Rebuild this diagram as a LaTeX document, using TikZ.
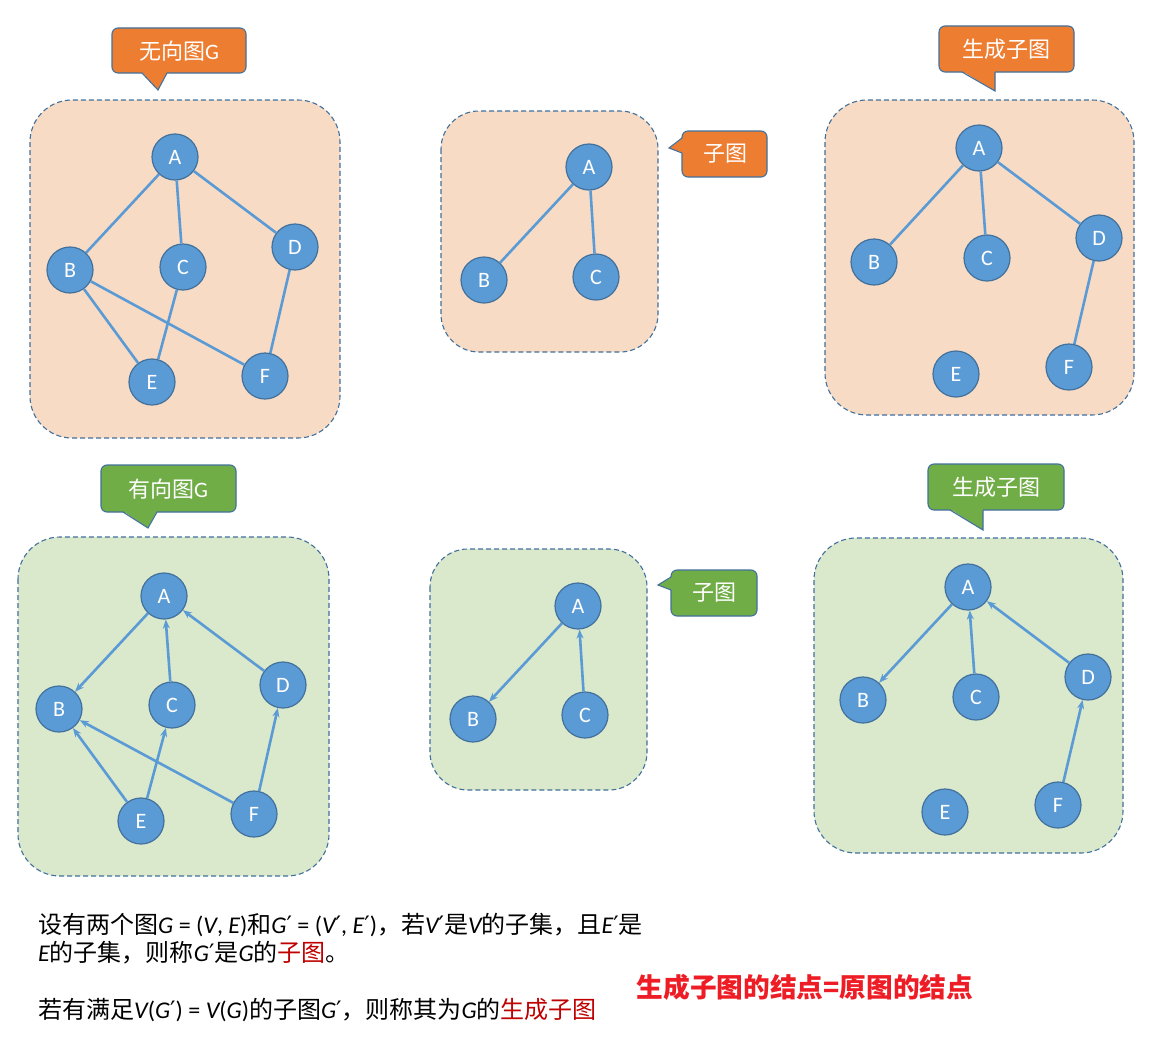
\documentclass[tikz,border=0pt]{standalone}
\usepackage{fontspec}
\setmainfont{Carlito}
\newfontfamily\cjk{Noto Sans CJK SC}
\newfontfamily\primef{DejaVu Sans}
\usetikzlibrary{arrows.meta}
\definecolor{nodeblue}{HTML}{5B9BD5}
\definecolor{nodeborder}{HTML}{41719C}
\definecolor{peach}{HTML}{F8DBC4}
\definecolor{lgreen}{HTML}{DAE8CC}
\definecolor{calloutorange}{HTML}{ED7D31}
\definecolor{calloutgreen}{HTML}{70AD47}
\definecolor{darkred}{HTML}{C00000}
\definecolor{brightred}{HTML}{EE1C25}
\newcommand\myit[1]{{\itshape #1}}
\newcommand\pr{{\primef\upshape ′}}
\tikzset{
 vert/.style={circle, fill=nodeblue, draw=nodeborder, line width=1.2pt, minimum size=46pt, inner sep=0pt, text=white, font=\fontsize{22}{22}\selectfont},
 edge/.style={draw=nodeblue, line width=2.6pt},
 arc/.style={edge, -{Stealth[length=9pt,width=7pt]}},
 panel/.style={draw=nodeborder, line width=1.1pt, dash pattern=on 5pt off 3pt, rounded corners=42pt},
 smallpanel/.style={panel, rounded corners=38pt},
 callout/.style={draw=nodeborder, line width=1.1pt, rounded corners=6pt},
 ptr/.style={draw=nodeborder, line width=1.1pt},
 ctext/.style={text=white, inner sep=0pt, font=\fontsize{22}{22}\selectfont},
 btext/.style={anchor=west, inner sep=0pt, font=\fontsize{24}{28}\selectfont},
}
\begin{document}
\begin{tikzpicture}[x=1pt,y=-1pt]
\path[use as bounding box, fill=white] (0,0) rectangle (1174,1041);

% ---------- panels ----------
\draw[panel, fill=peach] (30,100) rectangle (340,438);
\draw[smallpanel, fill=peach] (441,111) rectangle (658,352);
\draw[panel, fill=peach] (825,100) rectangle (1134,415);
\draw[panel, fill=lgreen] (18,537) rectangle (329,876);
\draw[smallpanel, fill=lgreen] (430,549) rectangle (647,790);
\draw[panel, fill=lgreen] (814,538) rectangle (1123,853);

% ---------- callouts ----------
% 无向图G
\draw[callout, fill=calloutorange] (112,28) rectangle (246,73);
\fill[calloutorange] (142,72) -- (158,90) -- (167,72) -- cycle;
\draw[ptr] (142,73) -- (158,90) -- (167,73);
\node[ctext] (t1) at (179,51) {{\cjk 无向图}G};
% 子图 (top)
\draw[callout, fill=calloutorange] (682,131) rectangle (767,177);
\fill[calloutorange] (683,138) -- (669,148) -- (683,153) -- cycle;
\draw[ptr] (682,138) -- (669,148) -- (682,153);
\node[ctext] (t2) at (725,154) {\cjk 子图};
% 生成子图 (top)
\draw[callout, fill=calloutorange] (939,26) rectangle (1074,72);
\fill[calloutorange] (962,71) -- (995,91) -- (995,71) -- cycle;
\draw[ptr] (962,72) -- (995,91) -- (995,72);
\node[ctext] (t3) at (1006,49) {\cjk 生成子图};
% 有向图G
\draw[callout, fill=calloutgreen] (101,465) rectangle (236,512);
\fill[calloutgreen] (123,511) -- (148,528) -- (157,511) -- cycle;
\draw[ptr] (123,512) -- (148,528) -- (157,512);
\node[ctext] (t4) at (168,489) {{\cjk 有向图}G};
% 子图 (bottom)
\draw[callout, fill=calloutgreen] (671,570) rectangle (757,616);
\fill[calloutgreen] (672,577) -- (658,585) -- (672,590) -- cycle;
\draw[ptr] (671,577) -- (658,585) -- (671,590);
\node[ctext] (t5) at (714,593) {\cjk 子图};
% 生成子图 (bottom)
\draw[callout, fill=calloutgreen] (928,464) rectangle (1064,510);
\fill[calloutgreen] (950,509) -- (983,530) -- (983,509) -- cycle;
\draw[ptr] (950,510) -- (983,530) -- (983,510);
\node[ctext] (t6) at (996,487) {\cjk 生成子图};

% ---------- graph 1: undirected G ----------
\node[vert] (a1) at (175,157) {A};
\node[vert] (b1) at (70,270) {B};
\node[vert] (c1) at (183,267) {C};
\node[vert] (d1) at (295,247) {D};
\node[vert] (e1) at (152,382) {E};
\node[vert] (f1) at (265,376) {F};
\draw[edge] (a1) -- (b1);
\draw[edge] (a1) -- (c1);
\draw[edge] (a1) -- (d1);
\draw[edge] (b1) -- (e1);
\draw[edge] (b1) -- (f1);
\draw[edge] (c1) -- (e1);
\draw[edge] (d1) -- (f1);

% ---------- graph 2: subgraph ----------
\node[vert] (a2) at (589,167) {A};
\node[vert] (b2) at (484,280) {B};
\node[vert] (c2) at (596,277) {C};
\draw[edge] (a2) -- (b2);
\draw[edge] (a2) -- (c2);

% ---------- graph 3: spanning subgraph ----------
\node[vert] (a3) at (979,148) {A};
\node[vert] (b3) at (874,262) {B};
\node[vert] (c3) at (987,258) {C};
\node[vert] (d3) at (1099,238) {D};
\node[vert] (e3) at (956,374) {E};
\node[vert] (f3) at (1069,367) {F};
\draw[edge] (a3) -- (b3);
\draw[edge] (a3) -- (c3);
\draw[edge] (a3) -- (d3);
\draw[edge] (d3) -- (f3);

% ---------- graph 4: directed G ----------
\node[vert] (a4) at (164,596) {A};
\node[vert] (b4) at (59,709) {B};
\node[vert] (c4) at (172,705) {C};
\node[vert] (d4) at (283,685) {D};
\node[vert] (e4) at (141,821) {E};
\node[vert] (f4) at (254,814) {F};
\draw[arc] (a4) -- (b4);
\draw[arc] (c4) -- (a4);
\draw[arc] (d4) -- (a4);
\draw[arc] (e4) -- (b4);
\draw[arc] (e4) -- (c4);
\draw[arc] (f4) -- (b4);
\draw[arc] (f4) -- (d4);

% ---------- graph 5: directed subgraph ----------
\node[vert] (a5) at (578,606) {A};
\node[vert] (b5) at (473,719) {B};
\node[vert] (c5) at (585,715) {C};
\draw[arc] (a5) -- (b5);
\draw[arc] (c5) -- (a5);

% ---------- graph 6: directed spanning subgraph ----------
\node[vert] (a6) at (968,587) {A};
\node[vert] (b6) at (863,700) {B};
\node[vert] (c6) at (976,697) {C};
\node[vert] (d6) at (1088,677) {D};
\node[vert] (e6) at (945,812) {E};
\node[vert] (f6) at (1058,805) {F};
\draw[arc] (a6) -- (b6);
\draw[arc] (c6) -- (a6);
\draw[arc] (d6) -- (a6);
\draw[arc] (f6) -- (d6);

% ---------- text ----------
\node[btext] (l1) at (38,925) {{\cjk 设有两个图}\myit{G} = (\myit{V}, \myit{E}){\cjk 和}\myit{G}\pr{} = (\myit{V}\pr, \myit{E}\pr){\cjk ，若}\myit{V}\pr{\cjk 是}\myit{V}{\cjk 的子集，且}\myit{E}\pr{\cjk 是}};
\node[btext] (l2) at (38,953) {\myit{E}{\cjk 的子集，则称}\myit{G}\pr{\cjk 是}\myit{G}{\cjk 的\textcolor{darkred}{子图}。}};
\node[btext] (l3) at (38,1010) {{\cjk 若有满足}\myit{V}(\myit{G}\pr) = \myit{V}(\myit{G}){\cjk 的子图}\myit{G}\pr{\cjk ，则称其为}\myit{G}{\cjk 的\textcolor{darkred}{生成子图}}};
\node[text=brightred, inner sep=0pt, font=\cjk\bfseries\fontsize{26.7}{26.7}\selectfont] (note) at (805,987) {生成子图的结点=原图的结点};
\end{tikzpicture}
\end{document}
